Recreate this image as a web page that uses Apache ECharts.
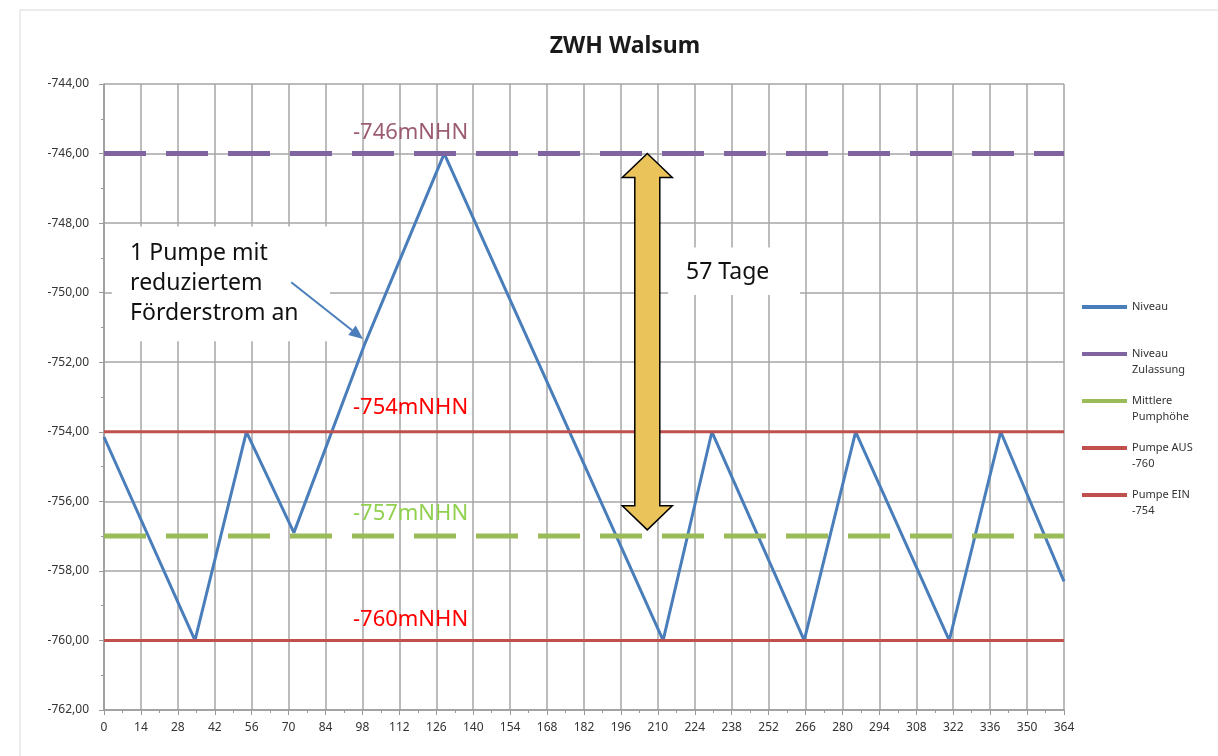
<!DOCTYPE html>
<html>
<head>
<meta charset="utf-8">
<script src="https://cdn.jsdelivr.net/npm/echarts@6/dist/echarts.min.js"></script>
<style>
  html, body { margin: 0; padding: 0; background: #fff; }
  #chart { width: 1218px; height: 756px; }
</style>
</head>
<body>
<div id="chart"></div>
<script>
// Tage und Niveau
var days = [0, 34.5, 54, 72, 99, 129, 170, 212, 230.5, 265.5, 285, 320.5, 340, 364]
var niveau = [-754.15, -760, -754, -756.9, -751.45, -746, -752.9, -760, -754, -760, -754, -760, -754, -758.3]

// Grenzwerte
var lineNames = ['Niveau Zulassung', 'Mittlere Pumphöhe', 'Pumpe AUS -760', 'Pumpe EIN -754']
var lineValues = [-746, -757, -760, -754]
var lineColors = ['#8064a2', '#9bbb59', '#c0504d', '#c0504d']
var legendLabels = [['Niveau', ''], ['Niveau', 'Zulassung'], ['Mittlere', 'Pumphöhe'], ['Pumpe AUS', '-760'], ['Pumpe EIN', '-754']]

var xRange = [0, 364]
var yRange = [-762, -744]

var chart = echarts.init(document.getElementById('chart'))

var levelData = days.map(function (d, i) { return [d, niveau[i]] })

var series = [{
  name: 'Niveau',
  type: 'line',
  data: levelData,
  symbol: 'none',
  lineStyle: { color: '#4a7ebb', width: 3 },
  itemStyle: { color: '#4a7ebb' },
  z: 3
}]
lineNames.forEach(function (n, i) {
  var dashed = i < 2
  series.push({
    name: n,
    type: 'line',
    data: [[xRange[0], lineValues[i]], [xRange[1], lineValues[i]]],
    symbol: 'none',
    lineStyle: {
      color: lineColors[i],
      width: dashed ? 5 : 3,
      type: dashed ? [42, 20] : 'solid'
    },
    itemStyle: { color: lineColors[i] },
    z: 4
  })
})

var legendNames = ['Niveau'].concat(lineNames)

var option = {
  animation: false,
  backgroundColor: '#fff',
  title: {
    text: 'ZWH Walsum',
    left: 620,
    textAlign: 'center',
    top: 30,
    textStyle: { fontFamily: 'Noto Sans', fontSize: 23, fontWeight: 'bold', color: '#1a1a1a' }
  },
  grid: { left: 104, right: 154, top: 84, bottom: 46 },
  legend: {
    orient: 'vertical',
    left: 1082,
    top: 283,
    padding: 0,
    itemGap: -1,
    itemWidth: 45,
    itemHeight: 4,
    icon: 'rect',
    selectedMode: false,
    data: legendNames,
    formatter: function (name) {
      var l = legendLabels[legendNames.indexOf(name)]
      // leere erste Zeile: Symbol steht auf Höhe der ersten Textzeile
      return '{s| }\n{a|' + l[0] + '}\n{a|' + (l[1] || ' ') + '}'
    },
    textStyle: {
      fontFamily: 'Noto Sans',
      fontSize: 11,
      color: '#333',
      lineHeight: 16,
      rich: {
        s: { fontSize: 11, lineHeight: 16 },
        a: { fontFamily: 'Noto Sans', fontSize: 11, color: '#333', lineHeight: 16 }
      }
    }
  },
  xAxis: {
    type: 'value',
    min: xRange[0],
    max: xRange[1],
    interval: 14,
    axisLine: { lineStyle: { color: '#9a9a9a', width: 1.5 } },
    axisTick: { show: true, length: 5, lineStyle: { color: '#9a9a9a' } },
    minorTick: { show: true, splitNumber: 2, length: 3, lineStyle: { color: '#9a9a9a' } },
    splitLine: { show: true, lineStyle: { color: '#a6a6a6', width: 1.5 } },
    axisLabel: { margin: 12, fontFamily: 'Noto Sans', fontSize: 12, color: '#333' }
  },
  yAxis: {
    type: 'value',
    min: yRange[0],
    max: yRange[1],
    interval: 2,
    axisLine: { show: true, lineStyle: { color: '#9a9a9a', width: 1.5 } },
    axisTick: { show: true, length: 5, lineStyle: { color: '#9a9a9a' } },
    minorTick: { show: true, splitNumber: 2, length: 3, lineStyle: { color: '#9a9a9a' } },
    splitLine: { show: true, lineStyle: { color: '#a6a6a6', width: 1.5 } },
    axisLabel: {
      margin: 15,
      fontFamily: 'Noto Sans',
      fontSize: 12,
      color: '#333',
      formatter: function (v) { return v.toFixed(2).replace('.', ',') }
    }
  },
  series: series
}

chart.setOption(option)

// Anmerkungen in Datenkoordinaten
function px (pt) { return chart.convertToPixel({ gridIndex: 0 }, pt) }

var levelLabels = [
  { text: '-746mNHN', at: [94.4, -745.4], color: '#9b5c72' },
  { text: '-754mNHN', at: [94.4, -753.3], color: '#ff0000' },
  { text: '-757mNHN', at: [94.4, -756.35], color: '#92d050' },
  { text: '-760mNHN', at: [94.4, -759.4], color: '#ff0000' }
]

var graphics = [{
  type: 'polyline',
  shape: { points: [[20, 756], [20, 10], [1218, 10]] },
  style: { stroke: '#d9d9d9', lineWidth: 1, fill: null },
  silent: true
}]

levelLabels.forEach(function (l) {
  var p = px(l.at)
  graphics.push({
    type: 'text',
    x: p[0],
    y: p[1],
    z: 10,
    style: {
      text: l.text,
      fill: l.color,
      font: '22px "Noto Sans"',
      verticalAlign: 'middle'
    }
  })
})

// Textfeld Pumpe
var b1a = px([3, -748.1]), b1b = px([85.7, -751.4])
graphics.push({
  type: 'rect',
  z: 5,
  shape: { x: b1a[0], y: b1a[1], width: b1b[0] - b1a[0], height: b1b[1] - b1a[1] },
  style: { fill: '#fff' }
})
var t1 = px([9.9, -748.45])
graphics.push({
  type: 'text',
  x: t1[0],
  y: t1[1],
  z: 10,
  style: {
    text: '1 Pumpe mit\nreduziertem\nFörderstrom an',
    fill: '#111',
    font: '23px "Noto Sans"',
    lineHeight: 30,
    verticalAlign: 'top'
  }
})

// Pfeil auf die Kurve
var a0 = px([71, -749.7]), a1 = px([98.2, -751.33])
var ang = Math.atan2(a1[1] - a0[1], a1[0] - a0[0])
var hl = 14, hw = 6
var base = [a1[0] - hl * Math.cos(ang), a1[1] - hl * Math.sin(ang)]
graphics.push({
  type: 'line',
  z: 10,
  shape: { x1: a0[0], y1: a0[1], x2: base[0], y2: base[1] },
  style: { stroke: '#4a7ebb', lineWidth: 2 }
})
graphics.push({
  type: 'polygon',
  z: 10,
  shape: {
    points: [
      a1,
      [base[0] + hw * Math.sin(ang), base[1] - hw * Math.cos(ang)],
      [base[0] - hw * Math.sin(ang), base[1] + hw * Math.cos(ang)]
    ]
  },
  style: { fill: '#4a7ebb' }
})

// Doppelpfeil 57 Tage
var arrTop = px([206, -746]), arrBot = px([206, -756.82])
var cx = arrTop[0], head = 24, hh = 25, sh = 12.5
graphics.push({
  type: 'polygon',
  z: 10,
  shape: {
    points: [
      [cx, arrTop[1]], [cx + hh, arrTop[1] + head], [cx + sh, arrTop[1] + head],
      [cx + sh, arrBot[1] - head], [cx + hh, arrBot[1] - head], [cx, arrBot[1]],
      [cx - hh, arrBot[1] - head], [cx - sh, arrBot[1] - head], [cx - sh, arrTop[1] + head],
      [cx - hh, arrTop[1] + head]
    ]
  },
  style: { fill: '#eac45b', stroke: '#000', lineWidth: 1.5 }
})

var b2a = px([213.9, -748.7]), b2b = px([263.9, -750.07])
graphics.push({
  type: 'rect',
  z: 5,
  shape: { x: b2a[0], y: b2a[1], width: b2b[0] - b2a[0], height: b2b[1] - b2a[1] },
  style: { fill: '#fff' }
})
var t2 = px([220.7, -749.43])
graphics.push({
  type: 'text',
  x: t2[0],
  y: t2[1],
  z: 10,
  style: { text: '57 Tage', fill: '#111', font: '23px "Noto Sans"', verticalAlign: 'middle' }
})

chart.setOption({ graphic: graphics })
</script>
</body>
</html>
